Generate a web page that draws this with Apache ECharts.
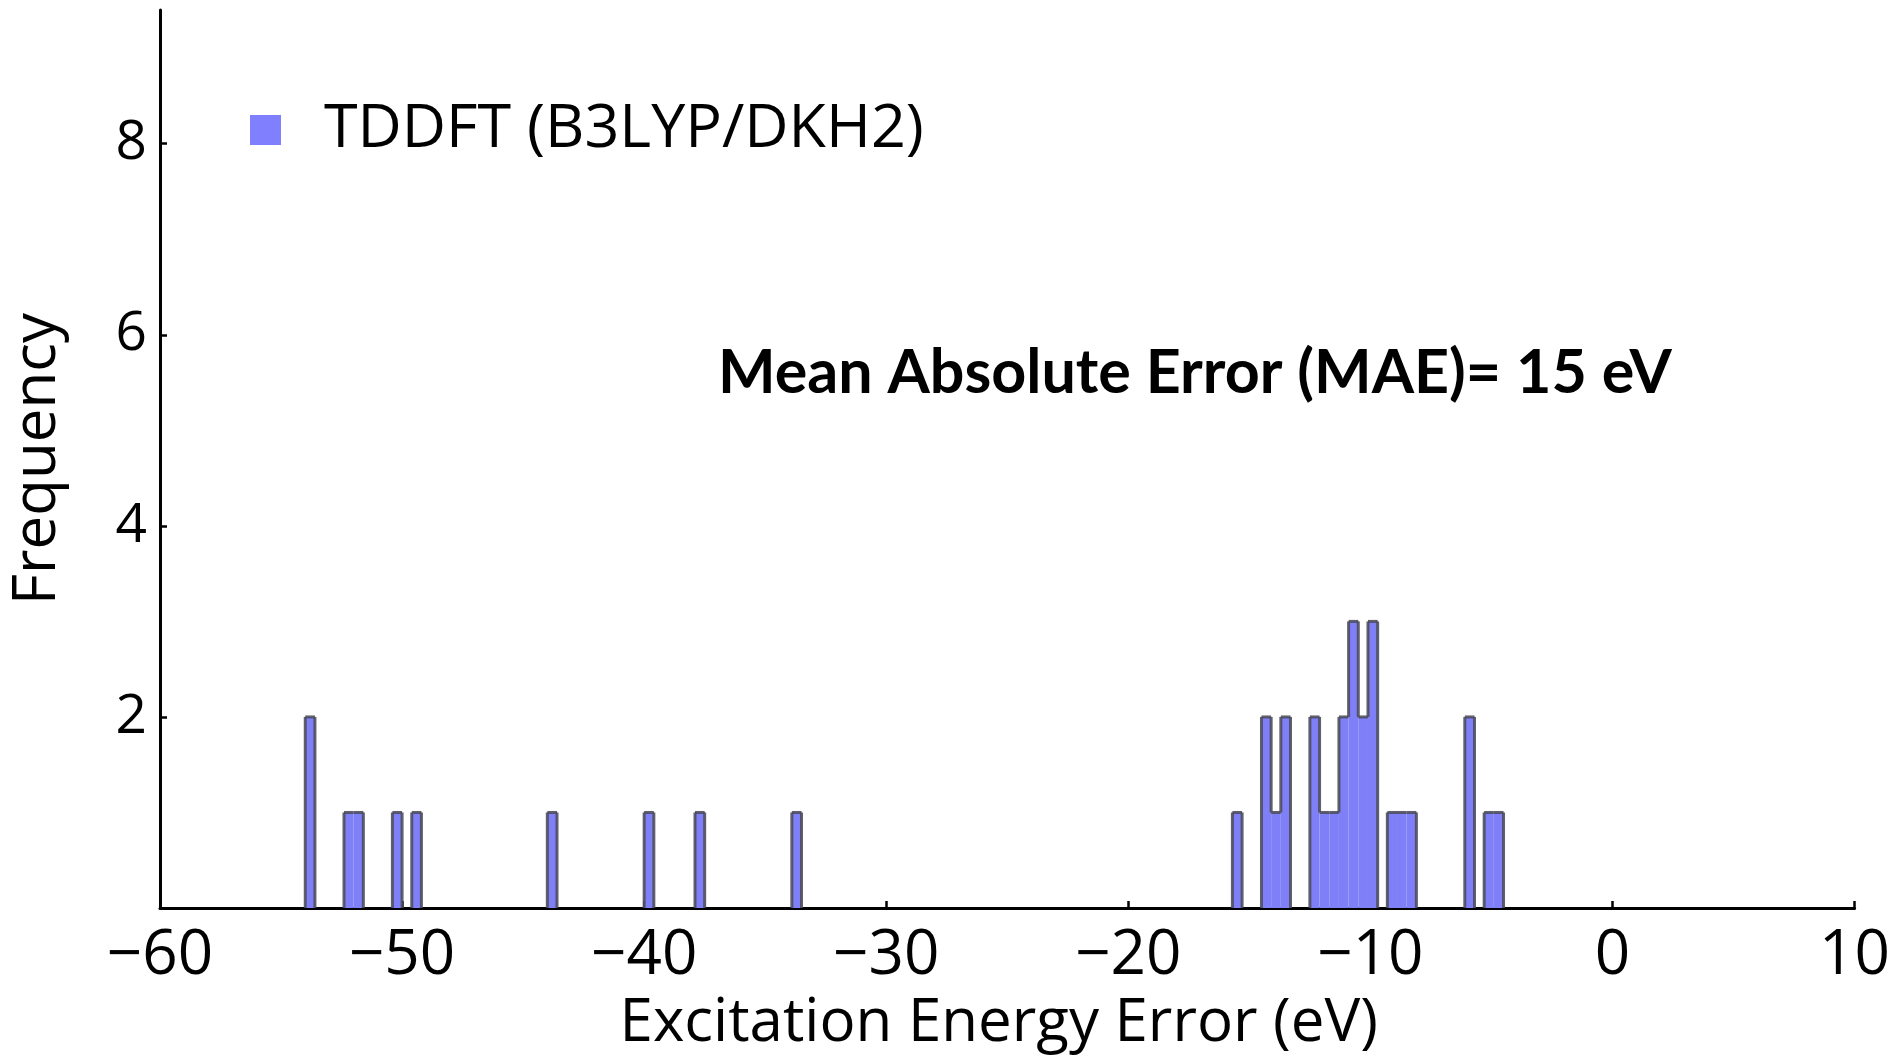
<!DOCTYPE html>
<html>
<head>
<meta charset="utf-8">
<script src="https://cdn.jsdelivr.net/npm/echarts@6/dist/echarts.min.js"></script>
<style>
html,body{margin:0;padding:0;background:#fff;}
#chart{width:1893px;height:1059px;}
</style>
</head>
<body>
<div id="chart"></div>
<script>
// Histogram bins: left edge (eV) and frequency, bin width 0.4 eV
const binStart = [-54.0, -52.4, -52.0, -50.4, -49.6, -44.0, -40.0, -37.9, -33.9,
  -15.7, -14.5, -14.1, -13.7, -12.5, -12.1, -11.7, -11.3, -10.9, -10.5, -10.1,
  -9.3, -8.9, -8.5, -6.1, -5.3, -4.9];
const binCounts = [2, 1, 1, 1, 1, 1, 1, 1, 1,
  1, 2, 1, 2, 2, 1, 1, 2, 3, 2, 3,
  1, 1, 1, 2, 1, 1];
const binWidth = 0.4;
const seriesName = 'TDDFT (B3LYP/DKH2)';
const annotation = 'Mean Absolute Error (MAE)= 15 eV';
const xAxisTitle = 'Excitation Energy Error (eV)';
const yAxisTitle = 'Frequency';

// data rows: [start, end, count, leftNeighbourCount, rightNeighbourCount]
const EPS = 1e-6;
const data = binStart.map((s, i) => {
  const e = s + binWidth;
  const li = i > 0 && Math.abs(binStart[i - 1] + binWidth - s) < EPS ? binCounts[i - 1] : 0;
  const ri = i < binStart.length - 1 && Math.abs(binStart[i + 1] - e) < EPS ? binCounts[i + 1] : 0;
  return [s, e, binCounts[i], li, ri];
});
const FONT = '"Open Sans", "Noto Sans", sans-serif';
const EDGE = 'rgba(75,75,90,0.88)';
const EDGE_W = 3;

const chart = echarts.init(document.getElementById('chart'));
chart.setOption({
  animation: false,
  backgroundColor: '#fff',
  grid: { left: 154, right: 36, top: 10, bottom: 148, containLabel: false },
  legend: {
    left: 245, top: 94,
    itemWidth: 31, itemHeight: 30,
    textStyle: { fontFamily: FONT, fontSize: 61, color: '#000', lineHeight: 62, padding: [0, 0, 0, 38] },
    data: [{ name: seriesName, icon: 'rect', itemStyle: { color: '#8080ff', borderWidth: 0 } }]
  },
  graphic: [{
    type: 'text', left: 718, top: 343,
    style: { text: annotation, font: 'bold 61px Lato, "Open Sans", sans-serif', fill: '#000' }
  }],
  xAxis: {
    type: 'value', min: -60, max: 10, interval: 10,
    name: xAxisTitle, nameLocation: 'middle', nameGap: 86,
    nameTextStyle: { fontFamily: FONT, fontSize: 60, color: '#000', padding: [0, 17, 0, 0] },
    axisLine: { show: true, onZero: false, lineStyle: { color: '#000', width: 3 } },
    axisTick: { show: true, inside: true, length: 7, lineStyle: { color: '#000', width: 2.5 } },
    axisLabel: { fontFamily: FONT, fontSize: 62, color: '#000', margin: 17,
      formatter: v => String(v).replace('-', '\u2212') },
    splitLine: { show: false }
  },
  yAxis: {
    type: 'value', min: 0, max: 9.4, interval: 2,
    name: yAxisTitle, nameLocation: 'middle', nameGap: 92, nameRotate: 90,
    nameTextStyle: { fontFamily: FONT, fontSize: 60, color: '#000' },
    axisLine: { show: true, onZero: false, lineStyle: { color: '#000', width: 3 } },
    axisTick: { show: true, inside: true, length: 7, lineStyle: { color: '#000', width: 2.5 } },
    axisLabel: { fontFamily: FONT, fontSize: 55, color: '#000', margin: 13, showMaxLabel: false,
      formatter: v => (v === 0 ? '' : String(v)) },
    splitLine: { show: false }
  },
  series: [{
    type: 'custom',
    name: seriesName,
    itemStyle: { color: '#8080ff' },
    encode: { x: [0, 1], y: 2 },
    data: data,
    renderItem: function (params, api) {
      const x0 = api.value(0), x1 = api.value(1), h = api.value(2);
      const lh = api.value(3), rh = api.value(4);
      const pTL = api.coord([x0, h]);
      const pBR = api.coord([x1, 0]);
      const pTR = api.coord([x1, h]);
      const children = [{
        type: 'rect',
        shape: { x: pTL[0], y: pTL[1], width: pBR[0] - pTL[0], height: pBR[1] - pTL[1] },
        style: { fill: '#7f7ff8' }
      }];
      const edgeStyle = { stroke: EDGE, lineWidth: EDGE_W, fill: null };
      children.push({ type: 'line', shape: { x1: pTL[0], y1: pTL[1], x2: pTR[0], y2: pTR[1] }, style: edgeStyle });
      if (lh < h) {
        const pL = api.coord([x0, lh]);
        children.push({ type: 'line', shape: { x1: pTL[0], y1: pTL[1], x2: pL[0], y2: pL[1] }, style: edgeStyle });
      }
      if (rh < h) {
        const pR = api.coord([x1, rh]);
        children.push({ type: 'line', shape: { x1: pTR[0], y1: pTR[1], x2: pR[0], y2: pR[1] }, style: edgeStyle });
      }
      return { type: 'group', children: children };
    }
  }]
});
</script>
</body>
</html>
